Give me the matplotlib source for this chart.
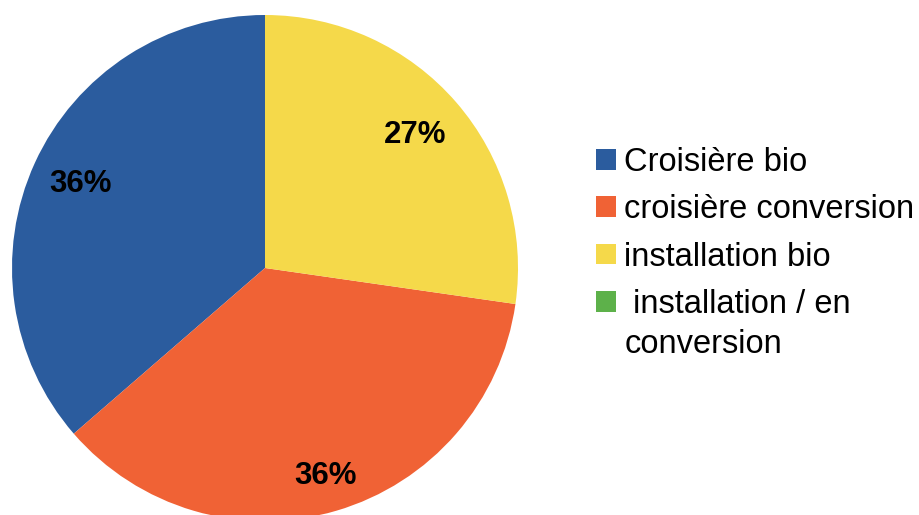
import matplotlib
matplotlib.use("Agg")
import matplotlib.pyplot as plt

plt.rcParams['font.family'] = ['Liberation Sans', 'DejaVu Sans']

labels = ["Croisière bio", "croisière conversion", "installation bio", " installation / en"]
label_continuation = "conversion"
values = [4, 4, 3, 0]
colors = ["#2B5C9E", "#F06235", "#F5D94A", "#5DB14A"]

fig = plt.figure(figsize=(9.19, 5.15), dpi=100)
W, H = 919, 515
cx, cy, r = 265, 268, 253
ax = fig.add_axes([(cx - r) / W, (H - cy - r) / H, 2 * r / W, 2 * r / H])

wedges, texts, autotexts = ax.pie(
    values, colors=colors, startangle=90, counterclock=True,
    autopct=lambda p: f"{p:.0f}%" if p > 0 else "",
    pctdistance=0.80, radius=1.0,
    wedgeprops=dict(linewidth=0),
    textprops=dict(fontsize=22.5, fontweight='bold', color='black'))
x, y = autotexts[1].get_position()
autotexts[1].set_position((x * 1.07, y * 1.07))
x, y = autotexts[2].get_position()
autotexts[2].set_position((x * 0.98, y * 1.0))
ax.set_xlim(-1, 1)
ax.set_ylim(-1, 1)
ax.set_aspect('equal')
ax.axis('off')

leg = fig.legend(wedges, labels, loc='upper left', bbox_to_anchor=(596 / W, 1 - 147 / H),
                 frameon=False, fontsize=23.5, handlelength=0.6, handleheight=0.6,
                 handletextpad=0.27, labelspacing=0.5, borderaxespad=0, borderpad=0)

fig.canvas.draw()
ref = leg.get_texts()[0].get_window_extent()
last = leg.get_texts()[3].get_window_extent()
fig.text(ref.x0 / W, (last.y0 - 40) / H, label_continuation, fontsize=23.5,
         ha='left', va='bottom')

fig.savefig("out.png", dpi=100)
